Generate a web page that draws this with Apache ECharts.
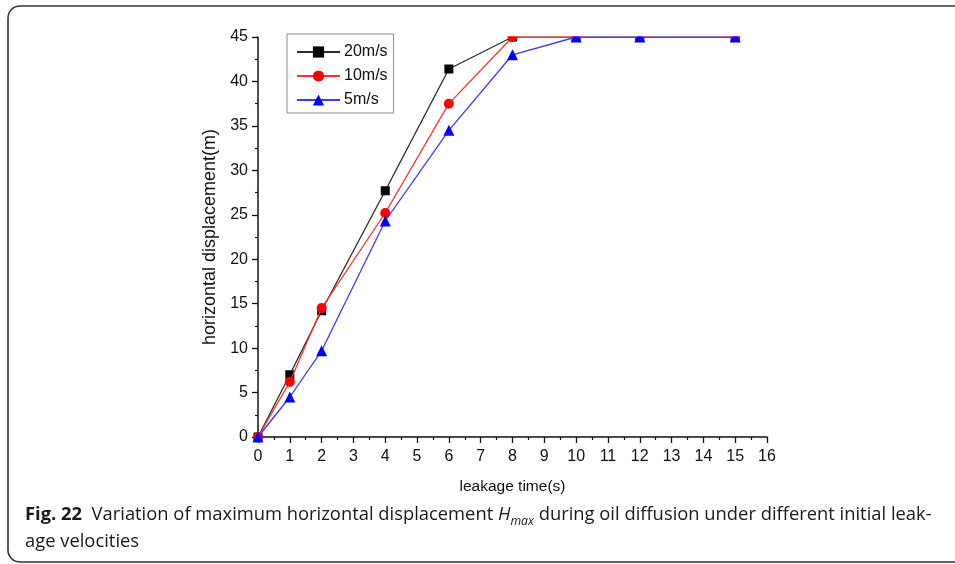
<!DOCTYPE html>
<html>
<head>
<meta charset="utf-8">
<script src="https://cdn.jsdelivr.net/npm/echarts@6/dist/echarts.min.js"></script>
<style>
  html, body { margin: 0; padding: 0; background: #fff; }
  #chart { width: 955px; height: 564px; }
</style>
</head>
<body>
<div id="chart"></div>
<script>
// Leakage time (s) at which the maximum horizontal displacement was sampled
const leakTimes = [0, 1, 2, 4, 6, 8, 10, 12, 15];

// Maximum horizontal displacement (m) for each initial leakage velocity
const v20 = [0, 7.0, 14.2, 27.7, 41.4, 45, 45, 45, 45];
const v10 = [0, 6.2, 14.5, 25.2, 37.5, 45, 45, 45, 45];
const v5  = [0, 4.5, 9.7, 24.3, 34.5, 43.0, 45, 45, 45];

const seriesNames = ['20m/s', '10m/s', '5m/s'];
const xTicks = { min: 0, max: 16, interval: 1 };
const yTicks = { min: 0, max: 45, interval: 5 };

const pairs = vals => leakTimes.map((t, i) => [t, vals[i]]);

const chart = echarts.init(document.getElementById('chart'), null, { renderer: 'canvas' });

const tickFont = { fontFamily: 'Liberation Sans', fontSize: 16, color: '#111' };

chart.setOption({
  backgroundColor: '#fff',
  animation: false,
  grid: { left: 258, top: 37, right: 188, bottom: 127, containLabel: false },
  legend: {
    orient: 'vertical',
    left: 287,
    top: 34,
    padding: [10, 6, 5, 9],
    itemGap: 8,
    itemWidth: 43,
    itemHeight: 14,
    borderColor: '#8a8a8a',
    borderWidth: 1,
    textStyle: { fontFamily: 'Liberation Sans', fontSize: 16, color: '#111', padding: [0, 0, 0, -1] },
    data: seriesNames
  },
  xAxis: {
    type: 'value',
    min: xTicks.min, max: xTicks.max, interval: xTicks.interval,
    name: 'leakage time(s)',
    nameLocation: 'middle',
    nameGap: 42,
    nameTextStyle: { fontFamily: 'Liberation Sans', fontSize: 15.5, color: '#111' },
    axisLine: { show: true, lineStyle: { color: '#111', width: 1.5 } },
    axisTick: { show: true, inside: false, length: 6, lineStyle: { color: '#111', width: 1.3 } },
    minorTick: { show: true, splitNumber: 2, length: 3, lineStyle: { color: '#111', width: 1.2 } },
    axisLabel: Object.assign({ margin: 12 }, tickFont),
    splitLine: { show: false }
  },
  yAxis: {
    type: 'value',
    min: yTicks.min, max: yTicks.max, interval: yTicks.interval,
    name: 'horizontal displacement(m)',
    nameLocation: 'middle',
    nameGap: 35,
    nameTextStyle: { fontFamily: 'Liberation Sans', fontSize: 18, color: '#111' },
    axisLine: { show: true, lineStyle: { color: '#111', width: 1.5 } },
    axisTick: { show: true, inside: false, length: 6, lineStyle: { color: '#111', width: 1.3 } },
    minorTick: { show: true, splitNumber: 2, length: 3, lineStyle: { color: '#111', width: 1.2 } },
    axisLabel: Object.assign({ margin: 10 }, tickFont),
    splitLine: { show: false }
  },
  series: [
    {
      name: seriesNames[0], type: 'line', data: pairs(v20),
      symbol: 'rect', symbolSize: 9, showAllSymbol: true,
      lineStyle: { color: '#2b2b2b', width: 1.3 },
      itemStyle: { color: '#000' }, z: 3
    },
    {
      name: seriesNames[1], type: 'line', data: pairs(v10),
      symbol: 'circle', symbolSize: 10, showAllSymbol: true,
      lineStyle: { color: '#ff3030', width: 1.3 },
      itemStyle: { color: '#ff0000' }, z: 4
    },
    {
      name: seriesNames[2], type: 'line', data: pairs(v5),
      symbol: 'triangle', symbolSize: 11, showAllSymbol: true,
      lineStyle: { color: '#3a3aff', width: 1.3 },
      itemStyle: { color: '#0000ff' }, z: 5
    }
  ],
  graphic: {
    elements: [
      // markers sitting on the top edge are cut off at the plot boundary
      {
        type: 'rect', zlevel: 1, z: 100,
        left: 400, top: 20,
        shape: { width: 380, height: 16.2 },
        style: { fill: '#fff' }
      },
      // rounded figure frame
      {
        type: 'rect', zlevel: 1, z: 100,
        shape: { x: 8, y: 6, width: 1000, height: 556, r: 12 },
        style: { fill: 'none', stroke: '#333', lineWidth: 1.6 }
      },
      // figure caption
      {
        type: 'text', zlevel: 1, z: 100,
        x: 25, y: 501,
        scaleX: 1.02,
        style: {
          text: '{b|Fig. 22}  Variation of maximum horizontal displacement {i|H}{s|max} during oil diffusion under different initial leak-\nage velocities',
          fontFamily: 'Open Sans',
          fontSize: 18,
          lineHeight: 27,
          fill: '#1a1a1a',
          rich: {
            b: { fontFamily: 'Open Sans', fontSize: 18, fontWeight: 'bold', lineHeight: 27, fill: '#1a1a1a' },
            i: { fontFamily: 'Open Sans', fontSize: 18, fontStyle: 'italic', lineHeight: 27, fill: '#1a1a1a' },
            s: { fontFamily: 'Open Sans', fontSize: 12, fontStyle: 'italic', verticalAlign: 'bottom', lineHeight: 15, fill: '#1a1a1a' }
          }
        }
      }
    ]
  }
});
</script>
</body>
</html>
